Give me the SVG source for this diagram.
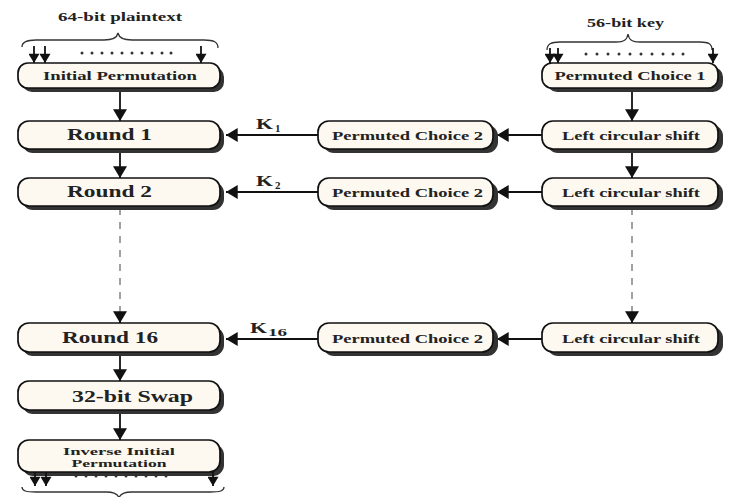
<svg xmlns="http://www.w3.org/2000/svg" width="745" height="497" viewBox="0 0 745 497">
  <style>
    .box { fill: #fdf9f1; stroke: #111; stroke-width: 1.7; }
    .shadow { fill: #333333; }
    .t { font-family: "Liberation Serif", "Times New Roman", serif; font-weight: bold; fill: #222; }
    .s11 { font-size: 11px; }
    .s12 { font-size: 12px; }
    .s16 { font-size: 16px; }
    .line { stroke: #111; stroke-width: 1.8; fill: none; }
    .dash { stroke: #8a8a8a; stroke-width: 1.6; stroke-dasharray: 7 7; fill: none; }
    .brace { stroke: #333; stroke-width: 1.3; fill: none; }
    .dot { fill: #333; }
  </style>
  <defs>
    <marker id="ah" markerUnits="userSpaceOnUse" markerWidth="14" markerHeight="14" viewBox="0 0 10 12" refX="10" refY="6" orient="auto">
      <path d="M0,0 L10,6 L0,12 Z" fill="#111"/>
    </marker>
    <marker id="ahs" markerUnits="userSpaceOnUse" markerWidth="11" markerHeight="11" viewBox="0 0 10 12" refX="10" refY="6" orient="auto">
      <path d="M0,0 L10,6 L0,12 Z" fill="#111"/>
    </marker>
  </defs>

  <rect width="745" height="497" fill="#ffffff"/>

  <!-- input bits: plaintext -->
  <g id="plaintext-in">
    <text class="t s12" x="58" y="21" textLength="124" lengthAdjust="spacingAndGlyphs">64-bit plaintext</text>
    <path class="brace" d="M22,47 C22,42 26,40 36,40 L104,40 C113,40 117,38 118,33 C119,38 123,40 132,40 L204,40 C214,40 218,42 218,48"/>
    <line class="line" x1="34" y1="46" x2="34" y2="63" marker-end="url(#ahs)"/>
    <line class="line" x1="45" y1="46" x2="45" y2="63" marker-end="url(#ahs)"/>
    <line class="line" x1="201" y1="46" x2="201" y2="63" marker-end="url(#ahs)"/>
    <g class="dot">
      <circle cx="82" cy="53" r="1.5"/><circle cx="92" cy="53" r="1.5"/><circle cx="102" cy="53" r="1.5"/><circle cx="112" cy="53" r="1.5"/><circle cx="122" cy="53" r="1.5"/><circle cx="132" cy="53" r="1.5"/><circle cx="142" cy="53" r="1.5"/><circle cx="152" cy="53" r="1.5"/><circle cx="162" cy="53" r="1.5"/><circle cx="171" cy="53" r="1.5"/>
    </g>
  </g>

  <!-- input bits: key -->
  <g id="key-in">
    <text class="t s12" x="587" y="27" textLength="77" lengthAdjust="spacingAndGlyphs">56-bit key</text>
    <path class="brace" d="M547,50 C547,44 551,42 560,42 L616,42 C624,42 627,40 628,34 C629,40 632,42 640,42 L700,42 C709,42 712,44 712,50"/>
    <line class="line" x1="550" y1="48" x2="550" y2="63" marker-end="url(#ahs)"/>
    <line class="line" x1="558" y1="48" x2="558" y2="63" marker-end="url(#ahs)"/>
    <line class="line" x1="713" y1="48" x2="713" y2="63" marker-end="url(#ahs)"/>
    <g class="dot">
      <circle cx="586" cy="54" r="1.5"/><circle cx="597" cy="54" r="1.5"/><circle cx="608" cy="54" r="1.5"/><circle cx="619" cy="54" r="1.5"/><circle cx="630" cy="54" r="1.5"/><circle cx="641" cy="54" r="1.5"/><circle cx="652" cy="54" r="1.5"/><circle cx="663" cy="54" r="1.5"/><circle cx="673" cy="54" r="1.5"/><circle cx="683" cy="54" r="1.5"/>
    </g>
  </g>

  <!-- connectors -->
  <g id="connectors">
    <!-- data path -->
    <line class="line" x1="120" y1="88" x2="120" y2="121" marker-end="url(#ah)"/>
    <line class="line" x1="120" y1="150" x2="120" y2="178" marker-end="url(#ah)"/>
    <line class="dash" x1="120" y1="208" x2="120" y2="315"/>
    <line class="line" x1="120" y1="314" x2="120" y2="323" marker-end="url(#ah)"/>
    <line class="line" x1="120" y1="353" x2="120" y2="381" marker-end="url(#ah)"/>
    <line class="line" x1="120" y1="411" x2="120" y2="440" marker-end="url(#ah)"/>
    <!-- key schedule -->
    <line class="line" x1="632" y1="89" x2="632" y2="121" marker-end="url(#ah)"/>
    <line class="line" x1="632" y1="150" x2="632" y2="178" marker-end="url(#ah)"/>
    <line class="dash" x1="632" y1="208" x2="632" y2="315"/>
    <line class="line" x1="632" y1="314" x2="632" y2="323" marker-end="url(#ah)"/>
    <!-- subkeys -->
    <line class="line" x1="542" y1="135" x2="497" y2="135" marker-end="url(#ah)"/>
    <line class="line" x1="318" y1="135" x2="226" y2="135" marker-end="url(#ah)"/>
    <line class="line" x1="542" y1="192" x2="497" y2="192" marker-end="url(#ah)"/>
    <line class="line" x1="318" y1="192" x2="226" y2="192" marker-end="url(#ah)"/>
    <line class="line" x1="542" y1="339" x2="497" y2="339" marker-end="url(#ah)"/>
    <line class="line" x1="318" y1="339" x2="226" y2="339" marker-end="url(#ah)"/>
    <text class="t" x="256" y="129" font-size="15" textLength="17" lengthAdjust="spacingAndGlyphs">K</text>
    <text class="t s11" x="275" y="132">1</text>
    <text class="t" x="256" y="186" font-size="15" textLength="17" lengthAdjust="spacingAndGlyphs">K</text>
    <text class="t s11" x="275" y="189">2</text>
    <text class="t" x="250" y="333" font-size="15" textLength="17" lengthAdjust="spacingAndGlyphs">K</text>
    <text class="t s11" x="268" y="336" textLength="19" lengthAdjust="spacingAndGlyphs">16</text>
  </g>

  <!-- data path nodes -->
  <g id="initial-permutation">
    <rect class="shadow" x="22" y="67" width="202" height="25" rx="10"/>
    <rect class="box" x="18" y="63" width="202" height="25" rx="10"/>
    <text class="t s12" x="120" y="80" text-anchor="middle" textLength="154" lengthAdjust="spacingAndGlyphs">Initial Permutation</text>
  </g>
  <g id="round-1">
    <rect class="shadow" x="22" y="125" width="202" height="28" rx="11"/>
    <rect class="box" x="18" y="121" width="202" height="28" rx="11"/>
    <text class="t s16" x="67" y="140" textLength="85" lengthAdjust="spacingAndGlyphs">Round 1</text>
  </g>
  <g id="round-2">
    <rect class="shadow" x="22" y="182" width="202" height="28" rx="11"/>
    <rect class="box" x="18" y="178" width="202" height="28" rx="11"/>
    <text class="t s16" x="67" y="197" textLength="85" lengthAdjust="spacingAndGlyphs">Round 2</text>
  </g>
  <g id="round-16">
    <rect class="shadow" x="22" y="327" width="202" height="29" rx="11"/>
    <rect class="box" x="18" y="323" width="202" height="29" rx="11"/>
    <text class="t s16" x="62" y="343" textLength="96" lengthAdjust="spacingAndGlyphs">Round 16</text>
  </g>
  <g id="swap">
    <rect class="shadow" x="22" y="385" width="202" height="29" rx="11"/>
    <rect class="box" x="18" y="381" width="202" height="29" rx="11"/>
    <text class="t s16" x="72" y="402" textLength="121" lengthAdjust="spacingAndGlyphs">32-bit Swap</text>
  </g>
  <g id="inverse-initial-permutation">
    <rect class="shadow" x="22" y="444" width="202" height="32" rx="11"/>
    <rect class="box" x="18" y="440" width="202" height="32" rx="11"/>
    <text class="t s11" x="119" y="455" text-anchor="middle" textLength="112" lengthAdjust="spacingAndGlyphs">Inverse Initial</text>
    <text class="t s11" x="119" y="467" text-anchor="middle" textLength="95" lengthAdjust="spacingAndGlyphs">Permutation</text>
  </g>

  <!-- output bits -->
  <g id="ciphertext-out">
    <line class="line" x1="35" y1="472" x2="35" y2="486" marker-end="url(#ahs)"/>
    <line class="line" x1="46" y1="472" x2="46" y2="486" marker-end="url(#ahs)"/>
    <line class="line" x1="213" y1="472" x2="213" y2="486" marker-end="url(#ahs)"/>
    <g class="dot">
      <circle cx="76" cy="476" r="1.5"/><circle cx="86" cy="476" r="1.5"/><circle cx="96" cy="476" r="1.5"/><circle cx="106" cy="476" r="1.5"/><circle cx="116" cy="476" r="1.5"/><circle cx="126" cy="476" r="1.5"/><circle cx="136" cy="476" r="1.5"/><circle cx="146" cy="476" r="1.5"/><circle cx="156" cy="476" r="1.5"/><circle cx="166" cy="476" r="1.5"/>
    </g>
    <path class="brace" d="M22,487 C22,491 26,492 36,492 L106,492 C114,492 118,494 119,498 C120,494 124,492 132,492 L210,492 C220,492 224,491 224,487"/>
  </g>

  <!-- key schedule nodes -->
  <g id="permuted-choice-1">
    <rect class="shadow" x="547" y="67" width="176" height="25" rx="10"/>
    <rect class="box" x="542" y="63" width="176" height="25" rx="10"/>
    <text class="t s12" x="630" y="80" text-anchor="middle" textLength="151" lengthAdjust="spacingAndGlyphs">Permuted Choice 1</text>
  </g>
  <g id="left-shift-1">
    <rect class="shadow" x="547" y="125" width="176" height="28" rx="11"/>
    <rect class="box" x="542" y="121" width="176" height="28" rx="11"/>
    <text class="t s12" x="562" y="140" textLength="138" lengthAdjust="spacingAndGlyphs">Left circular shift</text>
  </g>
  <g id="left-shift-2">
    <rect class="shadow" x="547" y="182" width="176" height="28" rx="11"/>
    <rect class="box" x="542" y="178" width="176" height="28" rx="11"/>
    <text class="t s12" x="562" y="197" textLength="138" lengthAdjust="spacingAndGlyphs">Left circular shift</text>
  </g>
  <g id="left-shift-16">
    <rect class="shadow" x="547" y="327" width="176" height="29" rx="11"/>
    <rect class="box" x="542" y="323" width="176" height="29" rx="11"/>
    <text class="t s12" x="562" y="343" textLength="138" lengthAdjust="spacingAndGlyphs">Left circular shift</text>
  </g>
  <g id="permuted-choice-2-1">
    <rect class="shadow" x="323" y="125" width="175" height="28" rx="11"/>
    <rect class="box" x="318" y="121" width="175" height="28" rx="11"/>
    <text class="t s12" x="332" y="140" textLength="151" lengthAdjust="spacingAndGlyphs">Permuted Choice 2</text>
  </g>
  <g id="permuted-choice-2-2">
    <rect class="shadow" x="323" y="182" width="175" height="28" rx="11"/>
    <rect class="box" x="318" y="178" width="175" height="28" rx="11"/>
    <text class="t s12" x="332" y="197" textLength="151" lengthAdjust="spacingAndGlyphs">Permuted Choice 2</text>
  </g>
  <g id="permuted-choice-2-16">
    <rect class="shadow" x="323" y="327" width="175" height="29" rx="11"/>
    <rect class="box" x="318" y="323" width="175" height="29" rx="11"/>
    <text class="t s12" x="332" y="343" textLength="151" lengthAdjust="spacingAndGlyphs">Permuted Choice 2</text>
  </g>
</svg>
